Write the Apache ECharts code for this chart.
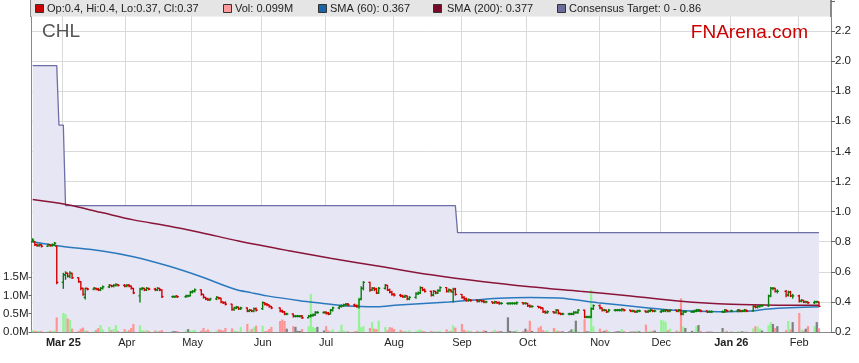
<!DOCTYPE html>
<html><head><meta charset="utf-8">
<script src="https://cdn.jsdelivr.net/npm/echarts@6/dist/echarts.min.js"></script>
<style>html,body{margin:0;padding:0;background:#fff}#c{width:859px;height:363px}</style>
</head><body><div id="c"></div>
<script>
// ---- DATA ----
// trading days: Feb 17 2025 .. Feb 11 2026 (ASX), one value per day
const opens = [
 0.80,0.80,0.78,0.775,0.78,0.77,0.78,0.775,0.78,0.77,
 0.53,0.58,0.59,0.57,0.59,0.56,0.535,0.49,0.43,0.49,0.485,0.49,0.485,0.48,0.49,0.50,0.51,0.505,0.51,0.515,0.51,
 0.505,0.51,0.505,0.49,0.44,0.485,0.49,0.48,0.49,0.485,0.48,0.49,0.48,0.435,0.435,0.44,0.435,0.44,0.44,
 0.465,0.47,0.48,0.45,0.43,0.42,0.415,0.42,0.43,0.425,0.40,0.395,0.385,0.35,0.36,0.365,0.355,0.36,0.34,0.345,0.34,0.355,
 0.355,0.395,0.385,0.38,0.37,0.36,0.34,0.335,0.32,0.32,0.305,0.305,0.305,0.305,0.295,0.305,0.31,0.315,0.33,0.33,
 0.33,0.325,0.32,0.345,0.36,0.37,0.375,0.38,0.385,0.38,0.375,0.37,0.42,0.49,0.53,0.48,0.49,0.485,0.46,0.49,0.51,0.48,0.465,
 0.45,0.445,0.44,0.435,0.44,0.42,0.43,0.455,0.46,0.495,0.48,0.47,0.445,0.47,0.46,0.475,0.495,0.47,0.48,0.465,0.485,
 0.45,0.43,0.42,0.41,0.415,0.41,0.405,0.41,0.405,0.40,0.40,0.395,0.40,0.395,0.39,0.39,0.39,0.39,0.39,0.39,0.395,0.39,
 0.39,0.375,0.37,0.37,0.365,0.36,0.335,0.33,0.335,0.33,0.345,0.325,0.32,0.32,0.32,0.32,0.33,0.33,0.345,0.30,0.30,0.30,0.355,
 0.375,0.36,0.345,0.345,0.335,0.345,0.345,0.345,0.345,0.35,0.345,0.34,0.34,0.335,0.34,0.34,0.335,0.34,0.345,0.34,
 0.335,0.34,0.34,0.345,0.34,0.345,0.34,0.345,0.32,0.335,0.335,0.335,0.34,0.345,0.345,0.34,0.335,0.335,0.335,0.335,0.345,
 0.34,0.34,0.345,0.34,0.34,0.345,0.34,0.37,0.365,0.37,0.375,0.375,0.44,0.49,0.49,0.47,0.47,0.445,0.465,0.44,
 0.44,0.405,0.41,0.40,0.40,0.395,0.40,0.40
];
const highs = [
 0.82,0.80,0.785,0.785,0.78,0.785,0.78,0.785,0.795,0.77,
 0.59,0.60,0.59,0.60,0.59,0.56,0.535,0.49,0.49,0.49,0.495,0.49,0.49,0.495,0.505,0.515,0.51,0.515,0.52,0.515,0.515,
 0.515,0.515,0.505,0.49,0.49,0.495,0.49,0.495,0.49,0.49,0.495,0.49,0.48,0.44,0.44,0.44,0.445,0.445,0.47,
 0.475,0.485,0.48,0.45,0.43,0.425,0.425,0.435,0.43,0.425,0.40,0.40,0.385,0.365,0.37,0.365,0.365,0.36,0.35,0.345,0.36,0.36,
 0.40,0.395,0.39,0.38,0.37,0.36,0.345,0.335,0.325,0.32,0.31,0.31,0.31,0.31,0.31,0.315,0.32,0.335,0.335,0.335,
 0.335,0.33,0.35,0.365,0.375,0.38,0.385,0.39,0.39,0.385,0.38,0.42,0.50,0.535,0.53,0.495,0.495,0.49,0.495,0.515,0.51,0.485,0.47,
 0.455,0.45,0.445,0.445,0.44,0.435,0.46,0.465,0.50,0.495,0.485,0.47,0.475,0.47,0.48,0.50,0.495,0.485,0.48,0.49,0.49,
 0.45,0.435,0.425,0.42,0.415,0.415,0.415,0.41,0.41,0.405,0.40,0.405,0.40,0.40,0.395,0.395,0.395,0.395,0.395,0.40,0.395,0.395,
 0.39,0.38,0.375,0.37,0.365,0.36,0.34,0.34,0.335,0.35,0.345,0.325,0.325,0.325,0.325,0.335,0.335,0.35,0.345,0.305,0.305,0.36,0.38,
 0.38,0.36,0.35,0.345,0.35,0.35,0.35,0.35,0.355,0.35,0.345,0.345,0.34,0.345,0.345,0.34,0.345,0.35,0.345,0.345,
 0.345,0.35,0.35,0.345,0.35,0.345,0.35,0.345,0.34,0.34,0.34,0.345,0.35,0.35,0.345,0.34,0.34,0.34,0.34,0.35,0.345,
 0.345,0.35,0.345,0.345,0.35,0.345,0.375,0.375,0.375,0.38,0.38,0.445,0.495,0.495,0.49,0.48,0.475,0.47,0.47,0.45,
 0.445,0.415,0.41,0.405,0.40,0.405,0.405,0.40
];
const lows = [
 0.80,0.775,0.77,0.77,0.765,0.77,0.77,0.77,0.775,0.52,
 0.49,0.55,0.565,0.56,0.555,0.53,0.48,0.445,0.42,0.48,0.48,0.48,0.475,0.475,0.485,0.495,0.50,0.50,0.505,0.505,0.50,
 0.50,0.50,0.485,0.455,0.40,0.48,0.475,0.475,0.48,0.475,0.475,0.475,0.43,0.43,0.43,0.43,0.43,0.435,0.44,
 0.46,0.465,0.445,0.425,0.415,0.41,0.41,0.415,0.42,0.395,0.39,0.38,0.345,0.345,0.355,0.35,0.35,0.335,0.335,0.335,0.335,0.34,
 0.35,0.38,0.375,0.365,0.355,0.335,0.33,0.315,0.315,0.30,0.30,0.30,0.30,0.29,0.295,0.30,0.305,0.31,0.325,0.325,
 0.32,0.315,0.32,0.34,0.355,0.365,0.37,0.375,0.375,0.37,0.365,0.36,0.415,0.48,0.47,0.475,0.475,0.455,0.455,0.485,0.475,0.46,0.445,
 0.44,0.435,0.43,0.43,0.415,0.415,0.425,0.45,0.455,0.475,0.465,0.44,0.44,0.455,0.455,0.47,0.465,0.465,0.465,0.40,0.445,
 0.425,0.415,0.405,0.405,0.405,0.40,0.40,0.40,0.395,0.395,0.39,0.39,0.39,0.385,0.385,0.385,0.385,0.385,0.385,0.385,0.385,0.385,
 0.37,0.365,0.365,0.36,0.355,0.33,0.325,0.325,0.325,0.325,0.32,0.315,0.315,0.315,0.315,0.315,0.325,0.325,0.295,0.295,0.295,0.295,0.35,
 0.355,0.34,0.34,0.33,0.335,0.34,0.34,0.34,0.34,0.34,0.335,0.335,0.33,0.33,0.335,0.33,0.33,0.335,0.335,0.335,
 0.33,0.335,0.335,0.335,0.335,0.335,0.335,0.315,0.315,0.33,0.33,0.33,0.335,0.34,0.335,0.33,0.33,0.33,0.33,0.33,0.335,
 0.335,0.335,0.335,0.335,0.335,0.335,0.34,0.36,0.36,0.365,0.37,0.37,0.435,0.48,0.465,0.46,0.435,0.44,0.435,0.425,
 0.40,0.40,0.395,0.395,0.39,0.39,0.395,0.37
];
const closes = [
 0.81,0.78,0.775,0.78,0.77,0.78,0.775,0.78,0.79,0.53,
 0.58,0.59,0.57,0.59,0.56,0.535,0.49,0.45,0.49,0.485,0.49,0.485,0.48,0.49,0.50,0.51,0.505,0.51,0.515,0.51,0.505,
 0.51,0.505,0.49,0.46,0.485,0.49,0.48,0.49,0.485,0.48,0.49,0.48,0.435,0.435,0.435,0.435,0.44,0.44,0.465,
 0.47,0.48,0.45,0.43,0.42,0.415,0.42,0.43,0.425,0.40,0.395,0.385,0.35,0.36,0.365,0.355,0.36,0.34,0.345,0.34,0.355,0.345,
 0.395,0.385,0.38,0.37,0.36,0.34,0.335,0.32,0.32,0.305,0.305,0.305,0.305,0.295,0.305,0.31,0.315,0.33,0.33,0.33,
 0.325,0.32,0.345,0.36,0.37,0.375,0.38,0.385,0.38,0.375,0.37,0.415,0.49,0.53,0.48,0.49,0.485,0.46,0.49,0.51,0.48,0.465,0.45,
 0.445,0.44,0.435,0.44,0.42,0.43,0.455,0.46,0.495,0.48,0.47,0.445,0.47,0.46,0.475,0.495,0.47,0.48,0.47,0.485,0.45,
 0.43,0.42,0.41,0.415,0.41,0.405,0.41,0.405,0.40,0.40,0.395,0.40,0.395,0.39,0.39,0.39,0.39,0.39,0.39,0.395,0.39,0.39,
 0.375,0.37,0.37,0.365,0.36,0.335,0.33,0.335,0.33,0.345,0.325,0.32,0.32,0.32,0.32,0.33,0.33,0.345,0.30,0.30,0.30,0.355,0.375,
 0.36,0.345,0.345,0.335,0.345,0.345,0.345,0.345,0.35,0.345,0.34,0.34,0.335,0.34,0.34,0.335,0.34,0.345,0.34,0.34,
 0.34,0.345,0.345,0.34,0.345,0.34,0.345,0.32,0.335,0.335,0.335,0.34,0.345,0.345,0.34,0.335,0.335,0.335,0.335,0.345,0.34,
 0.34,0.345,0.34,0.34,0.345,0.34,0.37,0.365,0.37,0.375,0.375,0.44,0.49,0.49,0.47,0.47,0.445,0.465,0.44,0.44,
 0.405,0.41,0.40,0.40,0.395,0.40,0.40,0.37
];
const volumes = [ // millions
 0.05,0.03,0.02,0.03,0.03,0.02,0.03,0.03,0.04,0.40,
 0.52,0.49,0.37,0.33,0.09,0.03,0.09,0.12,0.05,0.03,0.02,0.06,0.11,0.19,0.07,0.14,0.05,0.08,0.19,0.03,0.08,
 0.03,0.05,0.11,0.22,0.18,0.05,0.02,0.06,0.03,0.04,0.02,0.03,0.05,0.02,0.02,0.03,0.04,0.08,0.03,
 0.04,0.06,0.04,0.11,0.03,0.07,0.02,0.03,0.07,0.06,0.04,0.11,0.10,0.04,0.03,0.01,0.14,0.22,0.04,0.08,0.13,0.17,
 0.17,0.02,0.03,0.08,0.14,0.30,0.34,0.30,0.09,0.16,0.14,0.03,0.03,0.08,0.16,1.04,0.14,0.11,0.14,0.04,
 0.16,0.04,0.03,0.07,0.03,0.20,0.04,0.02,0.02,0.02,0.03,0.95,0.13,0.16,0.11,0.27,0.09,0.08,0.31,0.14,0.05,0.13,0.12,
 0.08,0.06,0.02,0.03,0.01,0.05,0.02,0.05,0.07,0.03,0.02,0.03,0.02,0.01,0.02,0.03,0.07,0.03,0.03,0.18,0.12,
 0.22,0.06,0.02,0.05,0.02,0.03,0.02,0.01,0.05,0.03,0.02,0.06,0.02,0.03,0.02,0.40,0.03,0.01,0.02,0.05,0.03,0.09,
 0.05,0.31,0.03,0.12,0.16,0.05,0.02,0.05,0.11,0.05,0.03,0.02,0.02,0.02,0.07,0.07,0.31,0.02,0.35,0.02,0.01,1.15,0.15,
 0.09,0.02,0.03,0.06,0.03,0.01,0.02,0.02,0.08,0.03,0.02,0.01,0.02,0.04,0.02,0.20,0.02,0.03,0.03,0.04,
 0.33,0.31,0.28,0.05,0.09,0.04,0.02,0.92,0.15,0.11,0.03,0.02,0.16,0.19,0.03,0.02,0.01,0.01,0.11,0.02,0.03,
 0.01,0.02,0.01,0.02,0.01,0.01,0.10,0.16,0.14,0.09,0.04,0.19,0.27,0.22,0.11,0.16,0.05,0.30,0.07,0.27,
 0.52,0.07,0.04,0.09,0.16,0.16,0.27,0.099
];
// moving averages and consensus target, read at sampled dates
const sma60Dates = ['2025-02-17','2025-03-02','2025-03-20','2025-04-04','2025-04-20','2025-05-05','2025-05-20','2025-05-28','2025-06-04','2025-06-19','2025-06-28','2025-07-11','2025-07-24','2025-08-03','2025-08-26','2025-09-18','2025-10-02','2025-10-15','2025-11-02','2025-11-25','2025-12-05','2025-12-27','2026-01-11','2026-01-19','2026-02-11'];
const sma60Values = [0.80,0.77,0.74,0.70,0.638,0.567,0.486,0.46,0.44,0.408,0.393,0.373,0.368,0.38,0.40,0.425,0.43,0.426,0.395,0.36,0.346,0.335,0.34,0.353,0.367];
const sma200Dates = ['2025-02-17','2025-03-05','2025-03-20','2025-04-04','2025-04-20','2025-05-05','2025-05-22','2025-06-14','2025-07-03','2025-07-26','2025-08-18','2025-09-10','2025-10-02','2025-10-25','2025-11-17','2025-12-10','2026-01-02','2026-01-25','2026-02-11'];
const sma200Values = [1.08,1.045,0.995,0.945,0.905,0.86,0.805,0.74,0.69,0.635,0.58,0.535,0.50,0.47,0.44,0.405,0.385,0.378,0.377];
const targetDates = ['2025-02-17','2025-02-28','2025-03-01','2025-03-03','2025-03-04','2025-08-29','2025-08-30','2026-02-11'];
const targetValues = [1.97,1.97,1.575,1.575,1.04,1.04,0.86,0.86];
const holidays = ['2025-04-18','2025-04-21','2025-04-25','2025-06-09','2025-12-25','2025-12-26','2026-01-01','2026-01-26'];
const priceTicks = [0.2,0.4,0.6,0.8,1.0,1.2,1.4,1.6,1.8,2.0,2.2];
const volTicks = [0,0.5,1.0,1.5];
const monthNames = ['Jan','Feb','Mar','Apr','May','Jun','Jul','Aug','Sep','Oct','Nov','Dec'];

// ---- axis scaffolding ----
const DAY = 86400000, START = Date.UTC(2025,1,17), NDAYS = 365;
const cats = [];
for (let i=0;i<NDAYS;i++) cats.push(new Date(START+i*DAY).toISOString().slice(0,10));
const catIndex = {}; cats.forEach((d,i)=>catIndex[d]=i);
const n = Math.min(opens.length,highs.length,lows.length,closes.length,volumes.length);
const tradeIdx = [];
for (let i=0;i<NDAYS && tradeIdx.length<n;i++){
  const wd = new Date(START+i*DAY).getUTCDay();
  if (wd===0||wd===6) continue;
  if (holidays.indexOf(cats[i])>=0) continue;
  tradeIdx.push(i);
}
const tickSet = new Set(); let firstTick = null;
for (let k=1;k<tradeIdx.length;k++){
  if (cats[tradeIdx[k]].slice(5,7)!==cats[tradeIdx[k-1]].slice(5,7)){ tickSet.add(tradeIdx[k]); if(firstTick===null) firstTick=tradeIdx[k]; }
}
const ohlc = [], vols = [];
for (let k=0;k<n;k++){
  ohlc.push([tradeIdx[k],opens[k],highs[k],lows[k],closes[k]]);
  const col = closes[k]>opens[k] ? '#94f494' : (closes[k]<opens[k] ? '#ff9494' : '#7f7f7f');
  vols.push({value:[tradeIdx[k],volumes[k]], itemStyle:{color:col}});
}
const pairs = (ds,vs)=>ds.map((d,i)=>[catIndex[d],vs[i]]);
const last = n-1;
const FONT = '"Liberation Sans", Arial, sans-serif';

const chart = echarts.init(document.getElementById('c'), null, {renderer:'canvas'});
const showIdx = (i)=>tickSet.has(i);
chart.setOption({
  animation:false,
  backgroundColor:'#fff',
  textStyle:{fontFamily:FONT},
  grid:{left:31,right:28,top:0,bottom:31,containLabel:false},
  xAxis:{type:'category',data:cats,boundaryGap:true,
    axisLine:{lineStyle:{color:'#888',width:1}},
    axisTick:{interval:(i)=>showIdx(i),alignWithLabel:true,length:4,lineStyle:{color:'#666'}},
    axisLabel:{interval:(i)=>showIdx(i),margin:5,fontSize:11,color:'#222',fontFamily:FONT,
      formatter:function(v){const m=+v.slice(5,7)-1;const yy=v.slice(2,4);
        const idx=catIndex[v];
        if(m===0||idx===firstTick) return '{b|'+monthNames[m]+' '+yy+'}';
        return monthNames[m];},
      rich:{b:{fontWeight:'bold',fontSize:11,color:'#222',fontFamily:FONT}}},
    splitLine:{show:true,interval:(i)=>showIdx(i),lineStyle:{color:'#d9d9d9',width:1}}
  },
  yAxis:[
    {type:'value',position:'right',min:0.2,max:2.406,interval:0.2,
      axisLine:{show:true,lineStyle:{color:'#888',width:1}},
      axisTick:{show:true,length:4,lineStyle:{color:'#666'}},
      axisLabel:{margin:4,fontSize:11.5,color:'#222',fontFamily:FONT,showMaxLabel:false,
        formatter:(v)=> priceTicks.some(t=>Math.abs(t-v)<1e-6) ? v.toFixed(1) : ''},
      splitLine:{show:true,lineStyle:{color:'#d9d9d9',width:1}}},
    {type:'value',position:'left',min:0,max:9.07,interval:0.5,
      axisLine:{show:true,lineStyle:{color:'#888',width:1}},
      axisTick:{show:true,length:3,customValues:volTicks,lineStyle:{color:'#666'}},
      axisLabel:{margin:3,fontSize:11.5,color:'#222',fontFamily:FONT,customValues:volTicks,
        formatter:(v)=> v<=1.5001 ? v.toFixed(1)+'M' : ''},
      splitLine:{show:false}}
  ],
  series:[
    {type:'line',name:'target',data:pairs(targetDates,targetValues),yAxisIndex:0,symbol:'none',
      lineStyle:{color:'#6e6ea6',width:1.3},areaStyle:{color:'#e6e6f5',opacity:1,origin:'start'},z:1},
    {type:'bar',name:'vol',data:vols,yAxisIndex:1,barWidth:2.2,barGap:'-100%',z:2},
    {type:'line',name:'sma200',data:pairs(sma200Dates,sma200Values),symbol:'none',smooth:0.35,
      lineStyle:{color:'#8a1538',width:1.5},z:3},
    {type:'line',name:'sma60',data:pairs(sma60Dates,sma60Values),symbol:'none',smooth:0.35,
      lineStyle:{color:'#2a78bd',width:1.5},z:3},
    {type:'custom',name:'ohlc',data:ohlc,yAxisIndex:0,z:4,encode:{x:0,y:[1,2,3,4]},
      renderItem:function(params,api){
        const x=api.value(0),o=api.value(1),h=api.value(2),l=api.value(3),c=api.value(4);
        const pO=api.coord([x,o]),pC=api.coord([x,c]),pH=api.coord([x,h]),pL=api.coord([x,l]);
        const col=c>=o?'#0a7d0a':'#d40000';const w=1.6;const st={stroke:col,lineWidth:1.4};
        return {type:'group',children:[
          {type:'line',shape:{x1:pH[0],y1:pH[1]-0.5,x2:pL[0],y2:pL[1]+0.5},style:st},
          {type:'line',shape:{x1:pO[0]-w,y1:pO[1],x2:pO[0],y2:pO[1]},style:st},
          {type:'line',shape:{x1:pC[0],y1:pC[1],x2:pC[0]+w,y2:pC[1]},style:st}
        ]};
      }}
  ],
  graphic:[
    {type:'rect',z:100,shape:{x:31,y:0,width:800,height:16.5},style:{fill:'#e5e5e5'}},
    {type:'line',z:101,shape:{x1:30.5,y1:0,x2:30.5,y2:17},style:{stroke:'#888',lineWidth:1}},
    {type:'line',z:101,shape:{x1:830.5,y1:0,x2:830.5,y2:17},style:{stroke:'#888',lineWidth:1}},
    {type:'rect',z:101,shape:{x:35.5,y:4.5,width:8,height:8},style:{fill:'#cc0000',stroke:'#333',lineWidth:1}},
    {type:'text',z:101,x:47,y:9,style:{text:'Op:'+opens[last]+', Hi:'+highs[last]+', Lo:'+lows[last]+', Cl:'+closes[last],font:'11px '+FONT,fill:'#222',verticalAlign:'middle'}},
    {type:'rect',z:101,shape:{x:223.5,y:4.5,width:8,height:8},style:{fill:'#ff9a9a',stroke:'#333',lineWidth:1}},
    {type:'text',z:101,x:235,y:9,style:{text:'Vol: '+volumes[last]+'M',font:'11px '+FONT,fill:'#222',verticalAlign:'middle'}},
    {type:'rect',z:101,shape:{x:318.5,y:4.5,width:8,height:8},style:{fill:'#1a64a8',stroke:'#333',lineWidth:1}},
    {type:'text',z:101,x:330,y:9,style:{text:'SMA (60): '+sma60Values[sma60Values.length-1],font:'11px '+FONT,fill:'#222',verticalAlign:'middle'}},
    {type:'rect',z:101,shape:{x:433.5,y:4.5,width:8,height:8},style:{fill:'#7a0a2a',stroke:'#333',lineWidth:1}},
    {type:'text',z:101,x:447,y:9,style:{text:'SMA (200): '+sma200Values[sma200Values.length-1],font:'11px '+FONT,fill:'#222',verticalAlign:'middle'}},
    {type:'rect',z:101,shape:{x:557.5,y:4.5,width:8,height:8},style:{fill:'#6b6b9c',stroke:'#333',lineWidth:1}},
    {type:'text',z:101,x:569,y:9,style:{text:'Consensus Target: 0 - 0.86',font:'11px '+FONT,fill:'#222',verticalAlign:'middle'}},
    {type:'text',z:101,x:42,y:32,style:{text:'CHL',font:'19px '+FONT,fill:'#555',verticalAlign:'middle'}},
    {type:'text',z:101,x:808,y:33,style:{text:'FNArena.com',font:'19px '+FONT,fill:'#cc0000',align:'right',verticalAlign:'middle'}}
  ]
});
</script></body></html>
